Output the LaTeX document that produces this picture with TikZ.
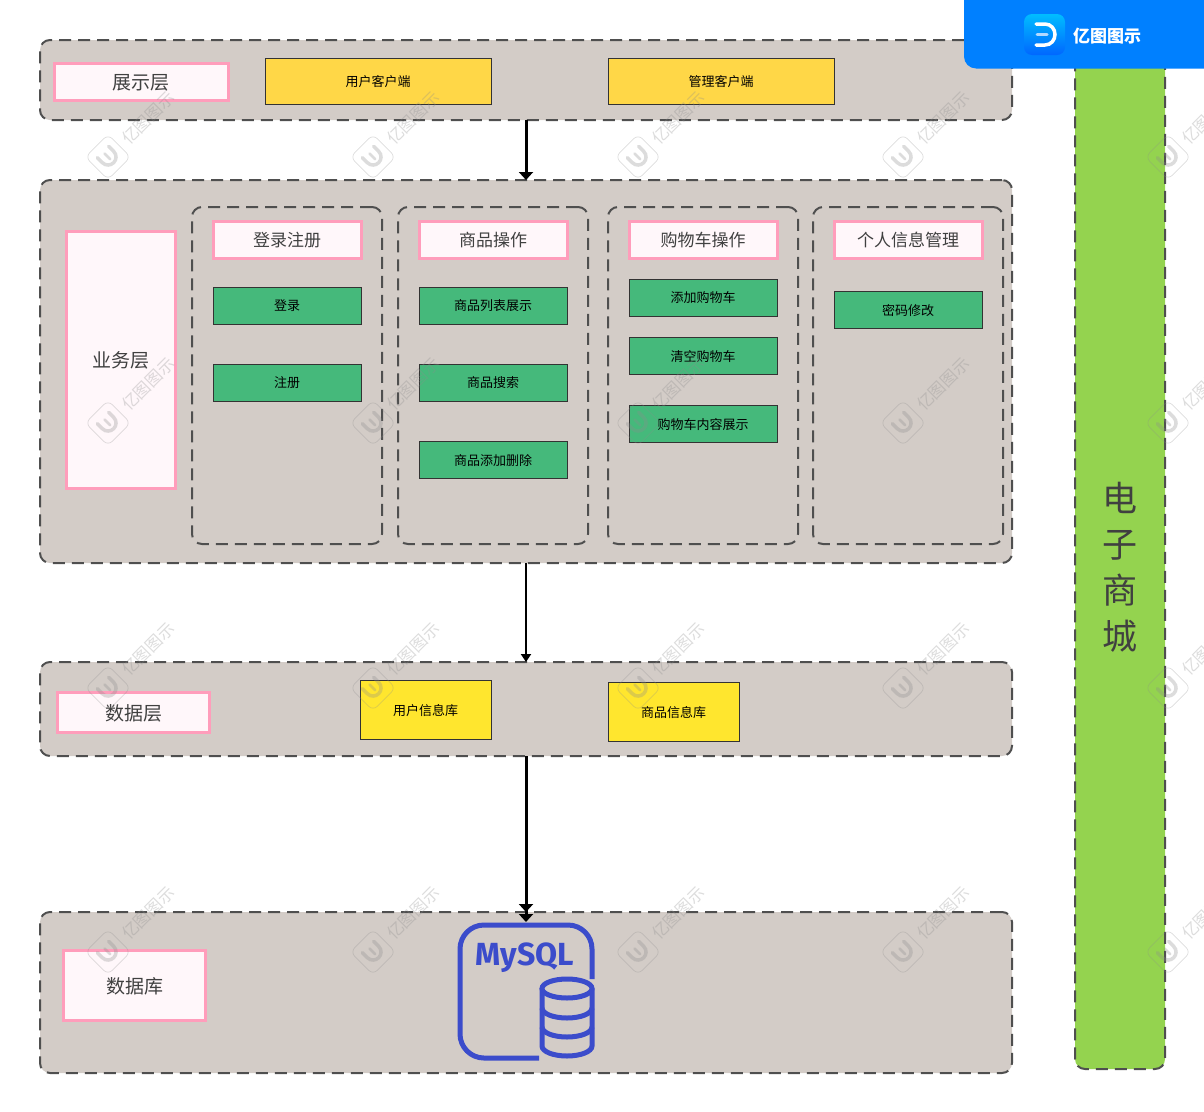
\documentclass[tikz,border=0pt]{standalone}
\usepackage{fontspec}
\setmainfont{Noto Sans CJK SC}
\newfontfamily\logofont{Fira Sans}
\usetikzlibrary{arrows.meta}
\definecolor{panelgray}{HTML}{D3CCC7}
\definecolor{dashgray}{HTML}{4F4F4F}
\definecolor{titlepink}{HTML}{FF9DBB}
\definecolor{titlefill}{HTML}{FFF7FA}
\definecolor{clientyellow}{HTML}{FFD747}
\definecolor{storeyellow}{HTML}{FFE62E}
\definecolor{funcgreen}{HTML}{45B97B}
\definecolor{bargreen}{HTML}{94D34F}
\definecolor{bannerblue}{HTML}{0080FF}
\definecolor{mysqlblue}{HTML}{3B4CCB}
\newcommand{\wmark}[2]{%
  \begin{scope}[shift={(#1,#2)},opacity=.3,black!45]
    \begin{scope}[rotate=-45]
      \draw[line width=.7pt,rounded corners=6pt] (-16,-16) rectangle (16,16);
      \draw[line width=3.5pt,line cap=round] (-7,-8) -- (0,-8) .. controls (5,-8) and (8,-4) .. (8,0) .. controls (8,4) and (5,8) .. (0,8) -- (-7,8);
      \draw[line width=2.5pt,line cap=round] (-5,0) -- (3,0);
    \end{scope}
    \node[rotate=45,font=\fontsize{16.5}{16.5}\selectfont] at (40,-39) {亿图图示};
  \end{scope}}
\begin{document}
\begin{tikzpicture}
  [x=1pt,y=-1pt,inner sep=0pt,outer sep=0pt,
   panel/.style={draw=dashgray,fill=panelgray,line width=2pt,dash pattern=on 12pt off 7pt,rounded corners=10pt,minimum width=972pt},
   subpanel/.style={draw=dashgray,line width=2pt,dash pattern=on 12pt off 7pt,rounded corners=10pt,minimum width=190pt,minimum height=337pt},
   titlebox/.style={draw=titlepink,fill=titlefill,line width=3pt,text=black!75,text depth=0pt,font=\fontsize{19}{19}\selectfont},
   subtitle/.style={titlebox,minimum width=148pt,minimum height=37pt,font=\fontsize{17}{17}\selectfont},
   func/.style={draw=black!80,fill=funcgreen,line width=.8pt,minimum width=148pt,minimum height=37pt,text depth=0pt,font=\fontsize{13}{13}\selectfont},
   client/.style={draw=black!80,fill=clientyellow,line width=.8pt,minimum width=226pt,minimum height=46pt,text depth=0pt,font=\fontsize{13}{13}\selectfont},
   store/.style={draw=black!80,fill=storeyellow,line width=.8pt,minimum width=131pt,minimum height=59pt,text depth=0pt,font=\fontsize{13}{13}\selectfont},
   link/.style={black}]
  \useasboundingbox (0,0) rectangle (1204,1111);

  % layers
  \node[panel,minimum height=80pt] (show) at (526,80) {};
  \node[panel,minimum height=383pt] (biz) at (526,371.5) {};
  \node[panel,minimum height=94pt] (data) at (526,709) {};
  \node[panel,minimum height=161pt] (db) at (526,992.5) {};
  \node[panel,fill=bargreen,minimum width=90pt,minimum height=1029pt] (bar) at (1120,554.5) {};
  \node[text=black!75,align=center,font=\fontsize{35}{46}\selectfont] (barlabel) at (1120,567) {电\\子\\商\\城};

  \node[subpanel] (login) at (287,375.5) {};
  \node[subpanel] (goods) at (493,375.5) {};
  \node[subpanel] (cart) at (703,375.5) {};
  \node[subpanel] (info) at (908,375.5) {};

  % titles
  \node[titlebox,minimum width=174pt,minimum height=37pt] (showtitle) at (141,81.5) {展示层};
  \node[titlebox,minimum width=109pt,minimum height=257pt] (biztitle) at (120.5,359.5) {业务层};
  \node[titlebox,minimum width=152pt,minimum height=40pt] (datatitle) at (133.5,712) {数据层};
  \node[titlebox,minimum width=142pt,minimum height=70pt] (dbtitle) at (134.5,985) {数据库};
  \node[subtitle] (logintitle) at (287,239.5) {登录注册};
  \node[subtitle] (goodstitle) at (493,239.5) {商品操作};
  \node[subtitle] (carttitle) at (703,239.5) {购物车操作};
  \node[subtitle] (infotitle) at (908,239.5) {个人信息管理};

  \node[client] (userclient) at (378,81) {用户客户端};
  \node[client] (adminclient) at (721,81) {管理客户端};

  \node[func] (f1) at (287,305.5) {登录};
  \node[func] (f2) at (287,382.5) {注册};
  \node[func] (f3) at (493,305.5) {商品列表展示};
  \node[func] (f4) at (493,382.5) {商品搜索};
  \node[func] (f5) at (493,459.5) {商品添加删除};
  \node[func] (f6) at (703,297.5) {添加购物车};
  \node[func] (f7) at (703,355.5) {清空购物车};
  \node[func] (f8) at (703,423.5) {购物车内容展示};
  \node[func] (f9) at (908,309.5) {密码修改};

  \node[store] (userdb) at (425.5,709.5) {用户信息库};
  \node[store] (goodsdb) at (673.5,711.5) {商品信息库};

  % mysql icon
  \begin{scope}[draw=mysqlblue,line width=5pt]
    \draw[rounded corners=24pt] (592,979) -- (592,925) -- (460,925) -- (460,1058) -- (539,1058);
    \draw (567,988.5) ellipse (25 and 9.5);
    \draw (542,988.5) -- (542,1046) arc (180:0:25 and 10) -- (592,988.5);
    \draw (542,1008) arc (180:0:25 and 10);
    \draw (542,1027) arc (180:0:25 and 10);
  \end{scope}
  \node[text=mysqlblue,font=\logofont\bfseries\fontsize{32}{32}\selectfont] (mysql) at (525,957.5) {MySQL};
  \coordinate (mysqltop) at (526,922);

  % links
  \foreach \from/\to/\wd/\tip in {show.south/biz.north/3pt/14pt,biz.south/data.north/2pt/10pt,data.south/db.north/3pt/14pt,data.south/mysqltop/3pt/14pt}
    \draw[link,line width=\wd,-{Triangle[width=\tip,length=8pt]}] (\from) -- (\to);

  % watermark
  \foreach \wy in {157,423,688,952}
    \foreach \wx in {108,373,638,903,1168}
      \wmark{\wx}{\wy};

  % banner
  \fill[bannerblue,rounded corners=12pt] (964,-20) -- (964,68.5) -- (1224,68.5) -- (1224,-20) -- cycle;
  \node[text=white,font=\fontsize{17}{17}\selectfont\bfseries] (brand) at (1107,36) {亿图图示};
  \node[top color=blue!10!cyan!60!bannerblue,bottom color=blue!20!bannerblue,rounded corners=8pt,minimum width=41pt,minimum height=41pt] (logo) at (1044.5,34.5) {};
  \draw[white,line width=3.5pt,line cap=round] (1036,24) -- (1045,24) .. controls (1051,24) and (1055,29) .. (1055,34.5) .. controls (1055,40) and (1051,45) .. (1045,45) -- (1036,45);
  \draw[white!70!bannerblue,line width=3pt,line cap=round] (1037,34.5) -- (1047,34.5);
\end{tikzpicture}
\end{document}
